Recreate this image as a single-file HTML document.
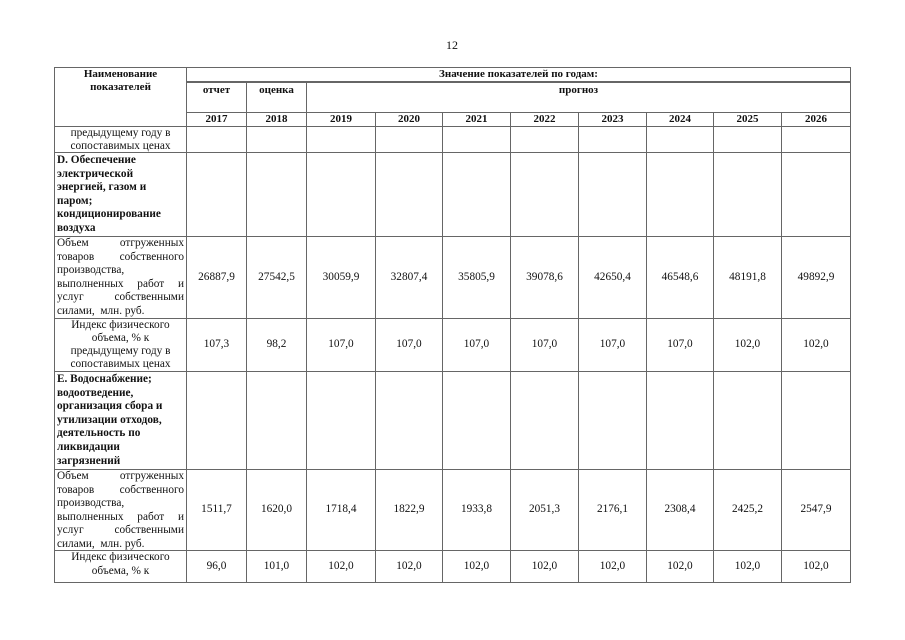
<!DOCTYPE html>
<html><head><meta charset="utf-8"><style>
html,body{margin:0;padding:0;background:#fff;}
body{width:905px;height:640px;position:relative;overflow:hidden;font-family:"Liberation Serif","DejaVu Serif",serif;color:#111;}
.pn{position:absolute;left:446px;top:38px;font-size:12px;}
table{position:absolute;left:54px;top:67px;border-collapse:collapse;table-layout:fixed;font-size:11.3px;line-height:13.6px;}
td{border:1px solid #666;padding:0;text-align:center;vertical-align:middle;overflow:hidden;}
td>div{overflow:hidden;}
.b{font-weight:bold;}
.l{text-align:left;vertical-align:top;padding-left:2px;}
.j{vertical-align:top;padding:0 2px;text-align:left;}
.j div{text-align:left;}
.j div.x{text-align:justify;text-align-last:justify;height:13.6px;}
.c{text-align:center;vertical-align:top;}
.h td{font-weight:bold;line-height:13px;font-size:11px;}
</style></head><body>
<div class="pn">12</div>
<table>
<colgroup><col style="width:132px"><col style="width:60px"><col style="width:60px"><col style="width:69px"><col style="width:67px"><col style="width:68px"><col style="width:68px"><col style="width:68px"><col style="width:67px"><col style="width:68px"><col style="width:69px"></colgroup>
<tr class="h"><td rowspan="3" style="vertical-align:top"><div style="height:58px">Наименование<br>показателей</div></td><td colspan="10" style="border-bottom:2px solid #666"><div style="height:13px">Значение показателей по годам:</div></td></tr>
<tr class="h"><td style="vertical-align:top"><div style="height:28px;padding-top:1px">отчет</div></td><td style="vertical-align:top"><div style="height:28px;padding-top:1px">оценка</div></td><td colspan="8" style="vertical-align:top"><div style="height:28px;padding-top:1px">прогноз</div></td></tr>
<tr class="h"><td><div style="height:13px">2017</div></td><td>2018</td><td>2019</td><td>2020</td><td>2021</td><td>2022</td><td>2023</td><td>2024</td><td>2025</td><td>2026</td></tr>
<tr><td class="c"><div style="height:25px;line-height:12.5px">предыдущему году в сопоставимых ценах</div></td><td></td><td></td><td></td><td></td><td></td><td></td><td></td><td></td><td></td><td></td></tr>
<tr><td class="l b"><div style="height:82px;padding-top:1px">D. Обеспечение<br>электрической<br>энергией, газом и<br>паром;<br>кондиционирование<br>воздуха</div></td><td></td><td></td><td></td><td></td><td></td><td></td><td></td><td></td><td></td><td></td></tr>
<tr><td class="j"><div style="height:81px"><div class="x">Объем отгруженных</div><div class="x">товаров собственного</div><div>производства,</div><div class="x">выполненных работ и</div><div class="x">услуг собственными</div><div>силами,&nbsp; млн. руб.</div></div></td><td>26887,9</td><td>27542,5</td><td>30059,9</td><td>32807,4</td><td>35805,9</td><td>39078,6</td><td>42650,4</td><td>46548,6</td><td>48191,8</td><td>49892,9</td></tr>
<tr><td class="c"><div style="height:52px;line-height:13px">Индекс физического<br>объема, % к<br>предыдущему году в<br>сопоставимых ценах</div></td><td>107,3</td><td>98,2</td><td>107,0</td><td>107,0</td><td>107,0</td><td>107,0</td><td>107,0</td><td>107,0</td><td>102,0</td><td>102,0</td></tr>
<tr><td class="l b"><div style="height:96px;padding-top:1px">E. Водоснабжение;<br>водоотведение,<br>организация сбора и<br>утилизации отходов,<br>деятельность по<br>ликвидации<br>загрязнений</div></td><td></td><td></td><td></td><td></td><td></td><td></td><td></td><td></td><td></td><td></td></tr>
<tr><td class="j"><div style="height:80px"><div class="x">Объем отгруженных</div><div class="x">товаров собственного</div><div>производства,</div><div class="x">выполненных работ и</div><div class="x">услуг собственными</div><div>силами,&nbsp; млн. руб.</div></div></td><td>1511,7</td><td>1620,0</td><td>1718,4</td><td>1822,9</td><td>1933,8</td><td>2051,3</td><td>2176,1</td><td>2308,4</td><td>2425,2</td><td>2547,9</td></tr>
<tr><td class="c"><div style="height:31px;line-height:13.5px">Индекс физического<br>объема, % к</div></td><td>96,0</td><td>101,0</td><td>102,0</td><td>102,0</td><td>102,0</td><td>102,0</td><td>102,0</td><td>102,0</td><td>102,0</td><td>102,0</td></tr>
</table>
</body></html>
